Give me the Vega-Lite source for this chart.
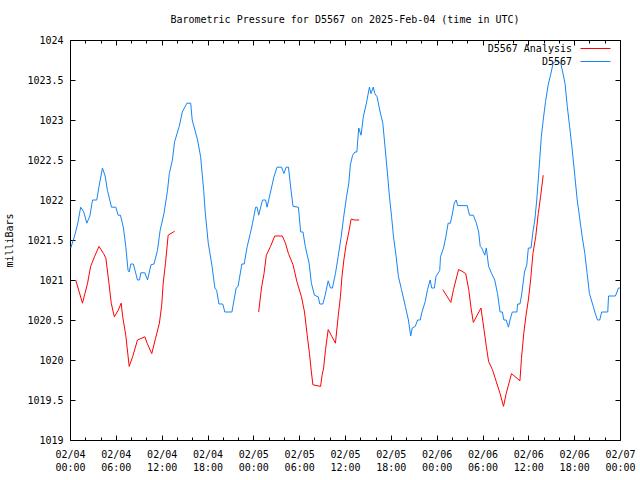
{
  "$schema": "https://vega.github.io/schema/vega-lite/v6.json",
  "width": 550,
  "height": 400,
  "autosize": "none",
  "padding": {"left": 70, "top": 40, "right": 20, "bottom": 40},
  "background": "white",
  "title": {"text": "Barometric Pressure for D5567 on 2025-Feb-04 (time in UTC)", "font": "DejaVu Sans Mono", "fontSize": 10, "fontWeight": "normal", "color": "black", "offset": 10},
  "config": {
    "view": {"stroke": "black", "strokeWidth": 1},
    "axis": {"labelFont": "DejaVu Sans Mono", "labelFontSize": 10, "labelColor": "black", "grid": false, "domain": false, "titleFont": "DejaVu Sans Mono", "titleFontSize": 10, "titleFontWeight": "normal", "titleColor": "black"}
  },
  "data": {"values": [
    {"t":"2025-02-04T00:06:00Z","p":1021.40,"s":"D5567","g":"b"},
    {"t":"2025-02-04T00:36:00Z","p":1021.55,"s":"D5567","g":"b"},
    {"t":"2025-02-04T01:00:00Z","p":1021.70,"s":"D5567","g":"b"},
    {"t":"2025-02-04T01:24:00Z","p":1021.91,"s":"D5567","g":"b"},
    {"t":"2025-02-04T01:48:00Z","p":1021.85,"s":"D5567","g":"b"},
    {"t":"2025-02-04T02:12:00Z","p":1021.71,"s":"D5567","g":"b"},
    {"t":"2025-02-04T02:36:00Z","p":1021.80,"s":"D5567","g":"b"},
    {"t":"2025-02-04T02:57:00Z","p":1022.00,"s":"D5567","g":"b"},
    {"t":"2025-02-04T03:30:00Z","p":1022.00,"s":"D5567","g":"b"},
    {"t":"2025-02-04T03:48:00Z","p":1022.17,"s":"D5567","g":"b"},
    {"t":"2025-02-04T04:15:00Z","p":1022.40,"s":"D5567","g":"b"},
    {"t":"2025-02-04T04:36:00Z","p":1022.30,"s":"D5567","g":"b"},
    {"t":"2025-02-04T04:54:00Z","p":1022.12,"s":"D5567","g":"b"},
    {"t":"2025-02-04T05:26:00Z","p":1021.91,"s":"D5567","g":"b"},
    {"t":"2025-02-04T06:00:00Z","p":1021.91,"s":"D5567","g":"b"},
    {"t":"2025-02-04T06:18:00Z","p":1021.81,"s":"D5567","g":"b"},
    {"t":"2025-02-04T06:36:00Z","p":1021.81,"s":"D5567","g":"b"},
    {"t":"2025-02-04T07:00:00Z","p":1021.65,"s":"D5567","g":"b"},
    {"t":"2025-02-04T07:18:00Z","p":1021.42,"s":"D5567","g":"b"},
    {"t":"2025-02-04T07:36:00Z","p":1021.12,"s":"D5567","g":"b"},
    {"t":"2025-02-04T07:45:00Z","p":1021.10,"s":"D5567","g":"b"},
    {"t":"2025-02-04T07:58:00Z","p":1021.20,"s":"D5567","g":"b"},
    {"t":"2025-02-04T08:18:00Z","p":1021.20,"s":"D5567","g":"b"},
    {"t":"2025-02-04T08:50:00Z","p":1021.00,"s":"D5567","g":"b"},
    {"t":"2025-02-04T09:06:00Z","p":1021.00,"s":"D5567","g":"b"},
    {"t":"2025-02-04T09:16:00Z","p":1021.09,"s":"D5567","g":"b"},
    {"t":"2025-02-04T09:48:00Z","p":1021.09,"s":"D5567","g":"b"},
    {"t":"2025-02-04T10:09:00Z","p":1021.00,"s":"D5567","g":"b"},
    {"t":"2025-02-04T10:36:00Z","p":1021.19,"s":"D5567","g":"b"},
    {"t":"2025-02-04T11:00:00Z","p":1021.20,"s":"D5567","g":"b"},
    {"t":"2025-02-04T11:27:00Z","p":1021.37,"s":"D5567","g":"b"},
    {"t":"2025-02-04T11:48:00Z","p":1021.62,"s":"D5567","g":"b"},
    {"t":"2025-02-04T12:18:00Z","p":1021.83,"s":"D5567","g":"b"},
    {"t":"2025-02-04T12:46:00Z","p":1022.12,"s":"D5567","g":"b"},
    {"t":"2025-02-04T13:00:00Z","p":1022.33,"s":"D5567","g":"b"},
    {"t":"2025-02-04T13:24:00Z","p":1022.50,"s":"D5567","g":"b"},
    {"t":"2025-02-04T13:42:00Z","p":1022.73,"s":"D5567","g":"b"},
    {"t":"2025-02-04T14:18:00Z","p":1022.92,"s":"D5567","g":"b"},
    {"t":"2025-02-04T14:42:00Z","p":1023.10,"s":"D5567","g":"b"},
    {"t":"2025-02-04T15:18:00Z","p":1023.21,"s":"D5567","g":"b"},
    {"t":"2025-02-04T15:48:00Z","p":1023.21,"s":"D5567","g":"b"},
    {"t":"2025-02-04T16:00:00Z","p":1023.00,"s":"D5567","g":"b"},
    {"t":"2025-02-04T16:42:00Z","p":1022.75,"s":"D5567","g":"b"},
    {"t":"2025-02-04T17:06:00Z","p":1022.54,"s":"D5567","g":"b"},
    {"t":"2025-02-04T17:30:00Z","p":1022.12,"s":"D5567","g":"b"},
    {"t":"2025-02-04T17:42:00Z","p":1021.85,"s":"D5567","g":"b"},
    {"t":"2025-02-04T18:06:00Z","p":1021.46,"s":"D5567","g":"b"},
    {"t":"2025-02-04T18:36:00Z","p":1021.17,"s":"D5567","g":"b"},
    {"t":"2025-02-04T18:58:00Z","p":1020.90,"s":"D5567","g":"b"},
    {"t":"2025-02-04T19:12:00Z","p":1020.87,"s":"D5567","g":"b"},
    {"t":"2025-02-04T19:30:00Z","p":1020.70,"s":"D5567","g":"b"},
    {"t":"2025-02-04T20:00:00Z","p":1020.70,"s":"D5567","g":"b"},
    {"t":"2025-02-04T20:16:00Z","p":1020.60,"s":"D5567","g":"b"},
    {"t":"2025-02-04T21:12:00Z","p":1020.60,"s":"D5567","g":"b"},
    {"t":"2025-02-04T21:45:00Z","p":1020.90,"s":"D5567","g":"b"},
    {"t":"2025-02-04T22:00:00Z","p":1020.92,"s":"D5567","g":"b"},
    {"t":"2025-02-04T22:30:00Z","p":1021.20,"s":"D5567","g":"b"},
    {"t":"2025-02-04T22:48:00Z","p":1021.20,"s":"D5567","g":"b"},
    {"t":"2025-02-04T23:12:00Z","p":1021.42,"s":"D5567","g":"b"},
    {"t":"2025-02-04T23:36:00Z","p":1021.58,"s":"D5567","g":"b"},
    {"t":"2025-02-04T23:54:00Z","p":1021.71,"s":"D5567","g":"b"},
    {"t":"2025-02-05T00:18:00Z","p":1021.91,"s":"D5567","g":"b"},
    {"t":"2025-02-05T00:30:00Z","p":1021.91,"s":"D5567","g":"b"},
    {"t":"2025-02-05T00:42:00Z","p":1021.81,"s":"D5567","g":"b"},
    {"t":"2025-02-05T01:12:00Z","p":1022.00,"s":"D5567","g":"b"},
    {"t":"2025-02-05T01:36:00Z","p":1022.00,"s":"D5567","g":"b"},
    {"t":"2025-02-05T01:48:00Z","p":1021.91,"s":"D5567","g":"b"},
    {"t":"2025-02-05T02:15:00Z","p":1022.10,"s":"D5567","g":"b"},
    {"t":"2025-02-05T02:42:00Z","p":1022.29,"s":"D5567","g":"b"},
    {"t":"2025-02-05T03:06:00Z","p":1022.41,"s":"D5567","g":"b"},
    {"t":"2025-02-05T03:42:00Z","p":1022.41,"s":"D5567","g":"b"},
    {"t":"2025-02-05T04:00:00Z","p":1022.33,"s":"D5567","g":"b"},
    {"t":"2025-02-05T04:18:00Z","p":1022.41,"s":"D5567","g":"b"},
    {"t":"2025-02-05T04:36:00Z","p":1022.41,"s":"D5567","g":"b"},
    {"t":"2025-02-05T04:54:00Z","p":1022.15,"s":"D5567","g":"b"},
    {"t":"2025-02-05T05:12:00Z","p":1021.92,"s":"D5567","g":"b"},
    {"t":"2025-02-05T05:54:00Z","p":1021.91,"s":"D5567","g":"b"},
    {"t":"2025-02-05T06:12:00Z","p":1021.60,"s":"D5567","g":"b"},
    {"t":"2025-02-05T06:30:00Z","p":1021.60,"s":"D5567","g":"b"},
    {"t":"2025-02-05T06:48:00Z","p":1021.42,"s":"D5567","g":"b"},
    {"t":"2025-02-05T07:18:00Z","p":1021.21,"s":"D5567","g":"b"},
    {"t":"2025-02-05T07:36:00Z","p":1020.96,"s":"D5567","g":"b"},
    {"t":"2025-02-05T08:00:00Z","p":1020.81,"s":"D5567","g":"b"},
    {"t":"2025-02-05T08:30:00Z","p":1020.79,"s":"D5567","g":"b"},
    {"t":"2025-02-05T08:42:00Z","p":1020.70,"s":"D5567","g":"b"},
    {"t":"2025-02-05T09:06:00Z","p":1020.70,"s":"D5567","g":"b"},
    {"t":"2025-02-05T09:24:00Z","p":1020.81,"s":"D5567","g":"b"},
    {"t":"2025-02-05T09:48:00Z","p":1020.99,"s":"D5567","g":"b"},
    {"t":"2025-02-05T10:06:00Z","p":1020.90,"s":"D5567","g":"b"},
    {"t":"2025-02-05T10:21:00Z","p":1020.90,"s":"D5567","g":"b"},
    {"t":"2025-02-05T10:45:00Z","p":1021.08,"s":"D5567","g":"b"},
    {"t":"2025-02-05T11:06:00Z","p":1021.29,"s":"D5567","g":"b"},
    {"t":"2025-02-05T11:30:00Z","p":1021.54,"s":"D5567","g":"b"},
    {"t":"2025-02-05T11:48:00Z","p":1021.77,"s":"D5567","g":"b"},
    {"t":"2025-02-05T12:12:00Z","p":1022.04,"s":"D5567","g":"b"},
    {"t":"2025-02-05T12:30:00Z","p":1022.21,"s":"D5567","g":"b"},
    {"t":"2025-02-05T12:42:00Z","p":1022.44,"s":"D5567","g":"b"},
    {"t":"2025-02-05T13:00:00Z","p":1022.56,"s":"D5567","g":"b"},
    {"t":"2025-02-05T13:18:00Z","p":1022.60,"s":"D5567","g":"b"},
    {"t":"2025-02-05T13:33:00Z","p":1022.60,"s":"D5567","g":"b"},
    {"t":"2025-02-05T13:48:00Z","p":1022.90,"s":"D5567","g":"b"},
    {"t":"2025-02-05T14:06:00Z","p":1022.81,"s":"D5567","g":"b"},
    {"t":"2025-02-05T14:24:00Z","p":1023.04,"s":"D5567","g":"b"},
    {"t":"2025-02-05T14:48:00Z","p":1023.21,"s":"D5567","g":"b"},
    {"t":"2025-02-05T15:12:00Z","p":1023.41,"s":"D5567","g":"b"},
    {"t":"2025-02-05T15:24:00Z","p":1023.33,"s":"D5567","g":"b"},
    {"t":"2025-02-05T15:42:00Z","p":1023.41,"s":"D5567","g":"b"},
    {"t":"2025-02-05T15:54:00Z","p":1023.33,"s":"D5567","g":"b"},
    {"t":"2025-02-05T16:12:00Z","p":1023.29,"s":"D5567","g":"b"},
    {"t":"2025-02-05T16:36:00Z","p":1023.10,"s":"D5567","g":"b"},
    {"t":"2025-02-05T16:57:00Z","p":1022.96,"s":"D5567","g":"b"},
    {"t":"2025-02-05T17:18:00Z","p":1022.60,"s":"D5567","g":"b"},
    {"t":"2025-02-05T17:36:00Z","p":1022.29,"s":"D5567","g":"b"},
    {"t":"2025-02-05T17:48:00Z","p":1022.06,"s":"D5567","g":"b"},
    {"t":"2025-02-05T18:06:00Z","p":1021.79,"s":"D5567","g":"b"},
    {"t":"2025-02-05T18:21:00Z","p":1021.54,"s":"D5567","g":"b"},
    {"t":"2025-02-05T18:42:00Z","p":1021.29,"s":"D5567","g":"b"},
    {"t":"2025-02-05T19:00:00Z","p":1021.04,"s":"D5567","g":"b"},
    {"t":"2025-02-05T19:24:00Z","p":1020.88,"s":"D5567","g":"b"},
    {"t":"2025-02-05T19:54:00Z","p":1020.67,"s":"D5567","g":"b"},
    {"t":"2025-02-05T20:18:00Z","p":1020.50,"s":"D5567","g":"b"},
    {"t":"2025-02-05T20:36:00Z","p":1020.30,"s":"D5567","g":"b"},
    {"t":"2025-02-05T20:48:00Z","p":1020.40,"s":"D5567","g":"b"},
    {"t":"2025-02-05T21:12:00Z","p":1020.42,"s":"D5567","g":"b"},
    {"t":"2025-02-05T21:30:00Z","p":1020.50,"s":"D5567","g":"b"},
    {"t":"2025-02-05T21:51:00Z","p":1020.50,"s":"D5567","g":"b"},
    {"t":"2025-02-05T22:03:00Z","p":1020.59,"s":"D5567","g":"b"},
    {"t":"2025-02-05T22:30:00Z","p":1020.73,"s":"D5567","g":"b"},
    {"t":"2025-02-05T22:48:00Z","p":1020.88,"s":"D5567","g":"b"},
    {"t":"2025-02-05T23:09:00Z","p":1021.00,"s":"D5567","g":"b"},
    {"t":"2025-02-05T23:21:00Z","p":1020.90,"s":"D5567","g":"b"},
    {"t":"2025-02-05T23:42:00Z","p":1020.90,"s":"D5567","g":"b"},
    {"t":"2025-02-05T23:54:00Z","p":1021.04,"s":"D5567","g":"b"},
    {"t":"2025-02-06T00:24:00Z","p":1021.12,"s":"D5567","g":"b"},
    {"t":"2025-02-06T00:30:00Z","p":1021.29,"s":"D5567","g":"b"},
    {"t":"2025-02-06T00:54:00Z","p":1021.40,"s":"D5567","g":"b"},
    {"t":"2025-02-06T01:12:00Z","p":1021.54,"s":"D5567","g":"b"},
    {"t":"2025-02-06T01:30:00Z","p":1021.71,"s":"D5567","g":"b"},
    {"t":"2025-02-06T01:48:00Z","p":1021.71,"s":"D5567","g":"b"},
    {"t":"2025-02-06T02:06:00Z","p":1021.85,"s":"D5567","g":"b"},
    {"t":"2025-02-06T02:18:00Z","p":1021.96,"s":"D5567","g":"b"},
    {"t":"2025-02-06T02:33:00Z","p":1022.00,"s":"D5567","g":"b"},
    {"t":"2025-02-06T02:45:00Z","p":1021.93,"s":"D5567","g":"b"},
    {"t":"2025-02-06T04:00:00Z","p":1021.93,"s":"D5567","g":"b"},
    {"t":"2025-02-06T04:18:00Z","p":1021.81,"s":"D5567","g":"b"},
    {"t":"2025-02-06T04:48:00Z","p":1021.81,"s":"D5567","g":"b"},
    {"t":"2025-02-06T05:12:00Z","p":1021.71,"s":"D5567","g":"b"},
    {"t":"2025-02-06T05:30:00Z","p":1021.60,"s":"D5567","g":"b"},
    {"t":"2025-02-06T05:42:00Z","p":1021.42,"s":"D5567","g":"b"},
    {"t":"2025-02-06T05:54:00Z","p":1021.40,"s":"D5567","g":"b"},
    {"t":"2025-02-06T06:18:00Z","p":1021.31,"s":"D5567","g":"b"},
    {"t":"2025-02-06T06:30:00Z","p":1021.40,"s":"D5567","g":"b"},
    {"t":"2025-02-06T06:48:00Z","p":1021.17,"s":"D5567","g":"b"},
    {"t":"2025-02-06T07:12:00Z","p":1021.08,"s":"D5567","g":"b"},
    {"t":"2025-02-06T07:36:00Z","p":1021.00,"s":"D5567","g":"b"},
    {"t":"2025-02-06T07:58:00Z","p":1020.83,"s":"D5567","g":"b"},
    {"t":"2025-02-06T08:18:00Z","p":1020.60,"s":"D5567","g":"b"},
    {"t":"2025-02-06T08:36:00Z","p":1020.60,"s":"D5567","g":"b"},
    {"t":"2025-02-06T08:48:00Z","p":1020.50,"s":"D5567","g":"b"},
    {"t":"2025-02-06T09:06:00Z","p":1020.50,"s":"D5567","g":"b"},
    {"t":"2025-02-06T09:24:00Z","p":1020.41,"s":"D5567","g":"b"},
    {"t":"2025-02-06T09:36:00Z","p":1020.50,"s":"D5567","g":"b"},
    {"t":"2025-02-06T09:54:00Z","p":1020.60,"s":"D5567","g":"b"},
    {"t":"2025-02-06T10:30:00Z","p":1020.60,"s":"D5567","g":"b"},
    {"t":"2025-02-06T10:36:00Z","p":1020.70,"s":"D5567","g":"b"},
    {"t":"2025-02-06T10:54:00Z","p":1020.70,"s":"D5567","g":"b"},
    {"t":"2025-02-06T11:06:00Z","p":1020.80,"s":"D5567","g":"b"},
    {"t":"2025-02-06T11:30:00Z","p":1021.10,"s":"D5567","g":"b"},
    {"t":"2025-02-06T11:48:00Z","p":1021.19,"s":"D5567","g":"b"},
    {"t":"2025-02-06T12:00:00Z","p":1021.40,"s":"D5567","g":"b"},
    {"t":"2025-02-06T12:21:00Z","p":1021.40,"s":"D5567","g":"b"},
    {"t":"2025-02-06T12:36:00Z","p":1021.60,"s":"D5567","g":"b"},
    {"t":"2025-02-06T12:51:00Z","p":1021.75,"s":"D5567","g":"b"},
    {"t":"2025-02-06T13:06:00Z","p":1022.00,"s":"D5567","g":"b"},
    {"t":"2025-02-06T13:18:00Z","p":1022.25,"s":"D5567","g":"b"},
    {"t":"2025-02-06T13:30:00Z","p":1022.52,"s":"D5567","g":"b"},
    {"t":"2025-02-06T13:42:00Z","p":1022.79,"s":"D5567","g":"b"},
    {"t":"2025-02-06T13:57:00Z","p":1023.00,"s":"D5567","g":"b"},
    {"t":"2025-02-06T14:15:00Z","p":1023.23,"s":"D5567","g":"b"},
    {"t":"2025-02-06T14:36:00Z","p":1023.44,"s":"D5567","g":"b"},
    {"t":"2025-02-06T14:54:00Z","p":1023.56,"s":"D5567","g":"b"},
    {"t":"2025-02-06T15:15:00Z","p":1023.71,"s":"D5567","g":"b"},
    {"t":"2025-02-06T15:42:00Z","p":1023.74,"s":"D5567","g":"b"},
    {"t":"2025-02-06T16:15:00Z","p":1023.71,"s":"D5567","g":"b"},
    {"t":"2025-02-06T16:48:00Z","p":1023.46,"s":"D5567","g":"b"},
    {"t":"2025-02-06T17:06:00Z","p":1023.17,"s":"D5567","g":"b"},
    {"t":"2025-02-06T17:24:00Z","p":1022.92,"s":"D5567","g":"b"},
    {"t":"2025-02-06T17:42:00Z","p":1022.67,"s":"D5567","g":"b"},
    {"t":"2025-02-06T18:06:00Z","p":1022.29,"s":"D5567","g":"b"},
    {"t":"2025-02-06T18:24:00Z","p":1022.00,"s":"D5567","g":"b"},
    {"t":"2025-02-06T18:42:00Z","p":1021.79,"s":"D5567","g":"b"},
    {"t":"2025-02-06T19:03:00Z","p":1021.54,"s":"D5567","g":"b"},
    {"t":"2025-02-06T19:24:00Z","p":1021.33,"s":"D5567","g":"b"},
    {"t":"2025-02-06T19:42:00Z","p":1021.08,"s":"D5567","g":"b"},
    {"t":"2025-02-06T20:00:00Z","p":1020.83,"s":"D5567","g":"b"},
    {"t":"2025-02-06T20:30:00Z","p":1020.67,"s":"D5567","g":"b"},
    {"t":"2025-02-06T20:42:00Z","p":1020.60,"s":"D5567","g":"b"},
    {"t":"2025-02-06T21:03:00Z","p":1020.50,"s":"D5567","g":"b"},
    {"t":"2025-02-06T21:21:00Z","p":1020.50,"s":"D5567","g":"b"},
    {"t":"2025-02-06T21:36:00Z","p":1020.60,"s":"D5567","g":"b"},
    {"t":"2025-02-06T22:24:00Z","p":1020.60,"s":"D5567","g":"b"},
    {"t":"2025-02-06T22:30:00Z","p":1020.80,"s":"D5567","g":"b"},
    {"t":"2025-02-06T23:24:00Z","p":1020.80,"s":"D5567","g":"b"},
    {"t":"2025-02-06T23:48:00Z","p":1020.90,"s":"D5567","g":"b"},
    {"t":"2025-02-07T00:00:00Z","p":1020.90,"s":"D5567","g":"b"},
    {"t":"2025-02-04T00:45:00Z","p":1021.00,"s":"D5567 Analysis","g":"r1"},
    {"t":"2025-02-04T01:38:00Z","p":1020.71,"s":"D5567 Analysis","g":"r1"},
    {"t":"2025-02-04T02:18:00Z","p":1020.96,"s":"D5567 Analysis","g":"r1"},
    {"t":"2025-02-04T02:42:00Z","p":1021.17,"s":"D5567 Analysis","g":"r1"},
    {"t":"2025-02-04T03:12:00Z","p":1021.29,"s":"D5567 Analysis","g":"r1"},
    {"t":"2025-02-04T03:48:00Z","p":1021.42,"s":"D5567 Analysis","g":"r1"},
    {"t":"2025-02-04T04:24:00Z","p":1021.33,"s":"D5567 Analysis","g":"r1"},
    {"t":"2025-02-04T04:42:00Z","p":1021.27,"s":"D5567 Analysis","g":"r1"},
    {"t":"2025-02-04T05:06:00Z","p":1020.96,"s":"D5567 Analysis","g":"r1"},
    {"t":"2025-02-04T05:24:00Z","p":1020.71,"s":"D5567 Analysis","g":"r1"},
    {"t":"2025-02-04T05:48:00Z","p":1020.54,"s":"D5567 Analysis","g":"r1"},
    {"t":"2025-02-04T06:18:00Z","p":1020.62,"s":"D5567 Analysis","g":"r1"},
    {"t":"2025-02-04T06:42:00Z","p":1020.71,"s":"D5567 Analysis","g":"r1"},
    {"t":"2025-02-04T06:54:00Z","p":1020.54,"s":"D5567 Analysis","g":"r1"},
    {"t":"2025-02-04T07:18:00Z","p":1020.31,"s":"D5567 Analysis","g":"r1"},
    {"t":"2025-02-04T07:45:00Z","p":1019.92,"s":"D5567 Analysis","g":"r1"},
    {"t":"2025-02-04T08:12:00Z","p":1020.04,"s":"D5567 Analysis","g":"r1"},
    {"t":"2025-02-04T08:50:00Z","p":1020.25,"s":"D5567 Analysis","g":"r1"},
    {"t":"2025-02-04T09:48:00Z","p":1020.29,"s":"D5567 Analysis","g":"r1"},
    {"t":"2025-02-04T10:06:00Z","p":1020.21,"s":"D5567 Analysis","g":"r1"},
    {"t":"2025-02-04T10:42:00Z","p":1020.08,"s":"D5567 Analysis","g":"r1"},
    {"t":"2025-02-04T11:12:00Z","p":1020.27,"s":"D5567 Analysis","g":"r1"},
    {"t":"2025-02-04T11:42:00Z","p":1020.46,"s":"D5567 Analysis","g":"r1"},
    {"t":"2025-02-04T12:00:00Z","p":1020.68,"s":"D5567 Analysis","g":"r1"},
    {"t":"2025-02-04T12:12:00Z","p":1020.96,"s":"D5567 Analysis","g":"r1"},
    {"t":"2025-02-04T12:30:00Z","p":1021.21,"s":"D5567 Analysis","g":"r1"},
    {"t":"2025-02-04T12:51:00Z","p":1021.56,"s":"D5567 Analysis","g":"r1"},
    {"t":"2025-02-04T13:42:00Z","p":1021.61,"s":"D5567 Analysis","g":"r1"},
    {"t":"2025-02-05T00:42:00Z","p":1020.60,"s":"D5567 Analysis","g":"r2"},
    {"t":"2025-02-05T01:04:00Z","p":1020.90,"s":"D5567 Analysis","g":"r2"},
    {"t":"2025-02-05T01:24:00Z","p":1021.08,"s":"D5567 Analysis","g":"r2"},
    {"t":"2025-02-05T01:42:00Z","p":1021.31,"s":"D5567 Analysis","g":"r2"},
    {"t":"2025-02-05T02:15:00Z","p":1021.42,"s":"D5567 Analysis","g":"r2"},
    {"t":"2025-02-05T02:48:00Z","p":1021.55,"s":"D5567 Analysis","g":"r2"},
    {"t":"2025-02-05T03:48:00Z","p":1021.55,"s":"D5567 Analysis","g":"r2"},
    {"t":"2025-02-05T04:12:00Z","p":1021.46,"s":"D5567 Analysis","g":"r2"},
    {"t":"2025-02-05T04:36:00Z","p":1021.33,"s":"D5567 Analysis","g":"r2"},
    {"t":"2025-02-05T05:12:00Z","p":1021.19,"s":"D5567 Analysis","g":"r2"},
    {"t":"2025-02-05T05:42:00Z","p":1020.98,"s":"D5567 Analysis","g":"r2"},
    {"t":"2025-02-05T06:18:00Z","p":1020.79,"s":"D5567 Analysis","g":"r2"},
    {"t":"2025-02-05T06:42:00Z","p":1020.60,"s":"D5567 Analysis","g":"r2"},
    {"t":"2025-02-05T07:03:00Z","p":1020.31,"s":"D5567 Analysis","g":"r2"},
    {"t":"2025-02-05T07:21:00Z","p":1020.08,"s":"D5567 Analysis","g":"r2"},
    {"t":"2025-02-05T07:36:00Z","p":1019.85,"s":"D5567 Analysis","g":"r2"},
    {"t":"2025-02-05T07:48:00Z","p":1019.69,"s":"D5567 Analysis","g":"r2"},
    {"t":"2025-02-05T08:48:00Z","p":1019.67,"s":"D5567 Analysis","g":"r2"},
    {"t":"2025-02-05T09:00:00Z","p":1019.81,"s":"D5567 Analysis","g":"r2"},
    {"t":"2025-02-05T09:12:00Z","p":1019.90,"s":"D5567 Analysis","g":"r2"},
    {"t":"2025-02-05T09:27:00Z","p":1020.13,"s":"D5567 Analysis","g":"r2"},
    {"t":"2025-02-05T09:48:00Z","p":1020.38,"s":"D5567 Analysis","g":"r2"},
    {"t":"2025-02-05T10:18:00Z","p":1020.29,"s":"D5567 Analysis","g":"r2"},
    {"t":"2025-02-05T10:45:00Z","p":1020.21,"s":"D5567 Analysis","g":"r2"},
    {"t":"2025-02-05T11:06:00Z","p":1020.54,"s":"D5567 Analysis","g":"r2"},
    {"t":"2025-02-05T11:24:00Z","p":1020.79,"s":"D5567 Analysis","g":"r2"},
    {"t":"2025-02-05T11:36:00Z","p":1021.04,"s":"D5567 Analysis","g":"r2"},
    {"t":"2025-02-05T11:51:00Z","p":1021.25,"s":"D5567 Analysis","g":"r2"},
    {"t":"2025-02-05T12:09:00Z","p":1021.44,"s":"D5567 Analysis","g":"r2"},
    {"t":"2025-02-05T12:30:00Z","p":1021.60,"s":"D5567 Analysis","g":"r2"},
    {"t":"2025-02-05T12:48:00Z","p":1021.76,"s":"D5567 Analysis","g":"r2"},
    {"t":"2025-02-05T13:18:00Z","p":1021.75,"s":"D5567 Analysis","g":"r2"},
    {"t":"2025-02-05T13:51:00Z","p":1021.75,"s":"D5567 Analysis","g":"r2"},
    {"t":"2025-02-06T00:48:00Z","p":1020.88,"s":"D5567 Analysis","g":"r3"},
    {"t":"2025-02-06T01:51:00Z","p":1020.72,"s":"D5567 Analysis","g":"r3"},
    {"t":"2025-02-06T02:12:00Z","p":1020.88,"s":"D5567 Analysis","g":"r3"},
    {"t":"2025-02-06T02:52:00Z","p":1021.13,"s":"D5567 Analysis","g":"r3"},
    {"t":"2025-02-06T03:18:00Z","p":1021.11,"s":"D5567 Analysis","g":"r3"},
    {"t":"2025-02-06T03:48:00Z","p":1021.08,"s":"D5567 Analysis","g":"r3"},
    {"t":"2025-02-06T04:12:00Z","p":1020.88,"s":"D5567 Analysis","g":"r3"},
    {"t":"2025-02-06T04:30:00Z","p":1020.65,"s":"D5567 Analysis","g":"r3"},
    {"t":"2025-02-06T04:48:00Z","p":1020.47,"s":"D5567 Analysis","g":"r3"},
    {"t":"2025-02-06T05:18:00Z","p":1020.56,"s":"D5567 Analysis","g":"r3"},
    {"t":"2025-02-06T05:48:00Z","p":1020.65,"s":"D5567 Analysis","g":"r3"},
    {"t":"2025-02-06T06:12:00Z","p":1020.38,"s":"D5567 Analysis","g":"r3"},
    {"t":"2025-02-06T06:30:00Z","p":1020.17,"s":"D5567 Analysis","g":"r3"},
    {"t":"2025-02-06T06:48:00Z","p":1019.98,"s":"D5567 Analysis","g":"r3"},
    {"t":"2025-02-06T07:18:00Z","p":1019.88,"s":"D5567 Analysis","g":"r3"},
    {"t":"2025-02-06T07:48:00Z","p":1019.73,"s":"D5567 Analysis","g":"r3"},
    {"t":"2025-02-06T08:18:00Z","p":1019.58,"s":"D5567 Analysis","g":"r3"},
    {"t":"2025-02-06T08:45:00Z","p":1019.42,"s":"D5567 Analysis","g":"r3"},
    {"t":"2025-02-06T09:06:00Z","p":1019.58,"s":"D5567 Analysis","g":"r3"},
    {"t":"2025-02-06T09:48:00Z","p":1019.83,"s":"D5567 Analysis","g":"r3"},
    {"t":"2025-02-06T10:54:00Z","p":1019.74,"s":"D5567 Analysis","g":"r3"},
    {"t":"2025-02-06T11:06:00Z","p":1020.02,"s":"D5567 Analysis","g":"r3"},
    {"t":"2025-02-06T11:24:00Z","p":1020.33,"s":"D5567 Analysis","g":"r3"},
    {"t":"2025-02-06T11:42:00Z","p":1020.56,"s":"D5567 Analysis","g":"r3"},
    {"t":"2025-02-06T12:00:00Z","p":1020.75,"s":"D5567 Analysis","g":"r3"},
    {"t":"2025-02-06T12:18:00Z","p":1021.00,"s":"D5567 Analysis","g":"r3"},
    {"t":"2025-02-06T12:36:00Z","p":1021.33,"s":"D5567 Analysis","g":"r3"},
    {"t":"2025-02-06T12:58:00Z","p":1021.54,"s":"D5567 Analysis","g":"r3"},
    {"t":"2025-02-06T13:18:00Z","p":1021.83,"s":"D5567 Analysis","g":"r3"},
    {"t":"2025-02-06T13:36:00Z","p":1022.04,"s":"D5567 Analysis","g":"r3"},
    {"t":"2025-02-06T13:57:00Z","p":1022.31,"s":"D5567 Analysis","g":"r3"}
  ]},
  "resolve": {"axis": {"x": "independent", "y": "independent"}},
  "layer": [
    {
      "mark": {"type": "line", "strokeWidth": 1},
      "encoding": {
        "x": {"field": "t", "type": "temporal",
          "scale": {"type": "utc", "domain": [{"year": 2025, "month": 2, "date": 4, "utc": true}, {"year": 2025, "month": 2, "date": 7, "utc": true}], "nice": false},
          "axis": {"orient": "bottom", "title": null, "offset": -5, "tickSize": 5, "tickColor": "black", "tickWidth": 1, "tickCount": 12, "labelPadding": 9, "labelLineHeight": 13, "labelBaseline": "top",
            "labelExpr": "[utcFormat(datum.value, '%m/%d'), utcFormat(datum.value, '%H:%M')]", "labelFlush": false, "labelOverlap": false}},
        "y": {"field": "p", "type": "quantitative",
          "scale": {"domain": [1019, 1024], "nice": false, "zero": false},
          "axis": {"orient": "left", "title": "milliBars", "offset": -5, "tickSize": 5, "tickColor": "black", "tickWidth": 1, "tickCount": 10, "labelPadding": 7, "titlePadding": 12, "format": "~f", "labelFlush": false, "labelOverlap": false}},
        "color": {"field": "s", "type": "nominal",
          "scale": {"domain": ["D5567 Analysis", "D5567"], "range": ["#ff0000", "#1785f5"]},
          "legend": {"orient": "none", "legendX": 520, "legendY": 3, "title": null, "symbolType": "M-3,0H3", "symbolSize": 100, "symbolStrokeWidth": 1, "labelAlign": "right", "labelOffset": -29, "rowPadding": 2, "padding": 0, "labelFont": "DejaVu Sans Mono", "labelFontSize": 10, "labelColor": "black"}},
        "detail": {"field": "g"}
      }
    },
    {
      "mark": {"type": "line", "strokeOpacity": 0},
      "encoding": {
        "x": {"field": "t", "type": "temporal", "axis": {"orient": "top", "title": null, "offset": -5, "tickSize": 5, "tickColor": "black", "tickWidth": 1, "tickCount": 12, "labels": false}},
        "y": {"field": "p", "type": "quantitative", "axis": {"orient": "right", "title": null, "offset": -5, "tickSize": 5, "tickColor": "black", "tickWidth": 1, "tickCount": 10, "labels": false}},
        "detail": {"field": "g"}
      }
    },
    {
      "mark": {"type": "line", "strokeOpacity": 0},
      "encoding": {
        "x": {"field": "t", "type": "temporal", "axis": {"orient": "bottom", "title": null, "offset": -3, "tickSize": 3, "tickColor": "black", "tickWidth": 1, "labels": false,
          "values": [1738634400000, 1738641600000, 1738656000000, 1738663200000, 1738677600000, 1738684800000, 1738699200000, 1738706400000, 1738720800000, 1738728000000, 1738742400000, 1738749600000, 1738764000000, 1738771200000, 1738785600000, 1738792800000, 1738807200000, 1738814400000, 1738828800000, 1738836000000, 1738850400000, 1738857600000, 1738872000000, 1738879200000]}},
        "y": {"field": "p", "type": "quantitative", "axis": null},
        "detail": {"field": "g"}
      }
    },
    {
      "mark": {"type": "line", "strokeOpacity": 0},
      "encoding": {
        "x": {"field": "t", "type": "temporal", "axis": {"orient": "top", "title": null, "offset": -3, "tickSize": 3, "tickColor": "black", "tickWidth": 1, "labels": false,
          "values": [1738634400000, 1738641600000, 1738656000000, 1738663200000, 1738677600000, 1738684800000, 1738699200000, 1738706400000, 1738720800000, 1738728000000, 1738742400000, 1738749600000, 1738764000000, 1738771200000, 1738785600000, 1738792800000, 1738807200000, 1738814400000, 1738828800000, 1738836000000, 1738850400000, 1738857600000, 1738872000000, 1738879200000]}},
        "y": {"field": "p", "type": "quantitative", "axis": null},
        "detail": {"field": "g"}
      }
    }
  ]
}
